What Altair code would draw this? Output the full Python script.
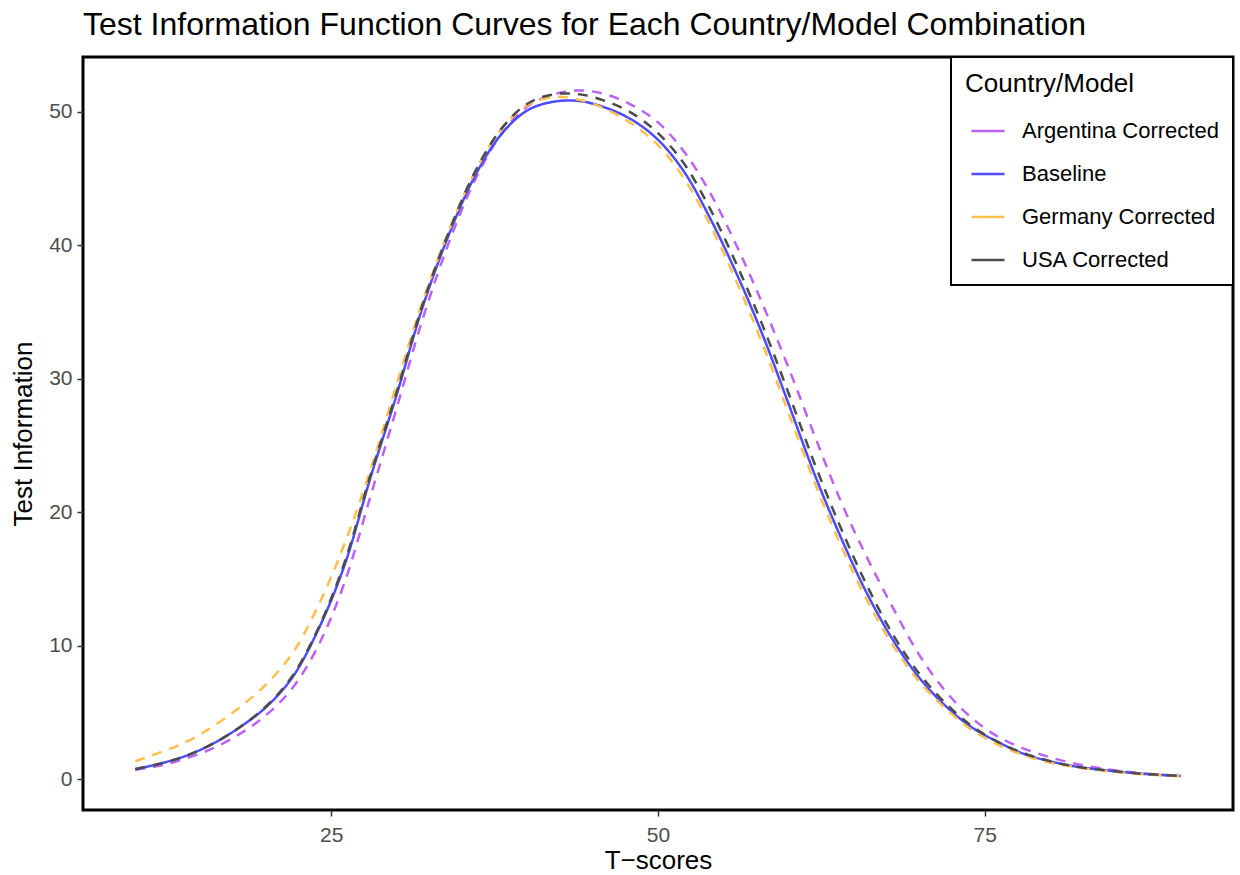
import altair as alt
import pandas as pd

t_scores = [10, 12, 14, 16, 18, 20, 22, 24, 26, 28, 30, 32, 34, 36, 38, 40, 42, 44, 46, 48, 50,
            52, 54, 56, 58, 60, 62, 64, 66, 68, 70, 72, 74, 76, 78, 80, 82, 84, 86, 88, 90]

argentina = [0.70, 1.05, 1.6, 2.35, 3.4, 4.8, 6.8, 10.0, 14.7, 21.2, 27.8, 34.5, 40.2, 44.9, 48.3,
             50.4, 51.3, 51.6, 51.3, 50.5, 49.2, 47.0, 43.9, 40.0, 35.6, 30.8, 25.7, 20.8, 16.6,
             12.8, 9.3, 6.6, 4.6, 3.2, 2.3, 1.65, 1.15, 0.8, 0.55, 0.38, 0.26]

baseline = [0.75, 1.2, 1.8, 2.7, 3.9, 5.4, 7.6, 11.2, 16.0, 22.6, 28.8, 35.4, 40.8, 45.2, 48.3,
            50.1, 50.75, 50.8, 50.3, 49.4, 47.9, 45.5, 42.0, 37.9, 33.3, 28.1, 22.8, 18.1, 13.9,
            10.4, 7.6, 5.5, 3.9, 2.8, 1.9, 1.35, 0.95, 0.7, 0.5, 0.35, 0.25]

germany = [1.35, 2.05, 2.85, 4.0, 5.4, 7.1, 9.4, 13.0, 17.6, 23.2, 29.6, 35.8, 41.1, 45.5, 48.7,
           50.5, 51.1, 50.9, 50.2, 49.1, 47.5, 45.0, 41.5, 37.3, 32.6, 27.4, 22.2, 17.5, 13.4,
           10.0, 7.3, 5.3, 3.7, 2.6, 1.8, 1.25, 0.9, 0.65, 0.45, 0.32, 0.23]

usa = [0.78, 1.2, 1.8, 2.7, 3.9, 5.45, 7.7, 11.3, 16.2, 22.8, 29.0, 35.6, 41.0, 45.5, 48.7,
       50.6, 51.3, 51.3, 50.8, 49.9, 48.4, 46.1, 42.7, 38.6, 34.0, 28.9, 23.6, 18.8, 14.5,
       10.8, 7.9, 5.7, 4.0, 2.8, 1.95, 1.35, 0.95, 0.7, 0.5, 0.35, 0.25]

series_names = ["Argentina Corrected", "Baseline", "Germany Corrected", "USA Corrected"]
series_values = [argentina, baseline, germany, usa]
colors = ["#BC62F4", "#4C4CFF", "#FFBF4C", "#4C4C4C"]

rows = []
for name, vals in zip(series_names, series_values):
    for t, v in zip(t_scores, vals):
        rows.append({"T": t, "Info": v, "Series": name})
df = pd.DataFrame(rows)

FONT = "Liberation Sans"

chart = alt.Chart(df).transform_calculate(
    LineType="datum.Series === 'Baseline' ? 'solid' : 'dashed'"
).mark_line(strokeWidth=2.5, interpolate="catmull-rom").encode(
    x=alt.X("T:Q", scale=alt.Scale(domain=[6, 94], nice=False, zero=False),
            axis=alt.Axis(values=[25, 50, 75], title="T\u2212scores", labelPadding=8, titlePadding=2)),
    y=alt.Y("Info:Q", scale=alt.Scale(domain=[-2.3, 54.1], nice=False, zero=False),
            axis=alt.Axis(values=[0, 10, 20, 30, 40, 50], title="Test Information", labelPadding=5,
                          titlePadding=12)),
    color=alt.Color("Series:N", scale=alt.Scale(domain=series_names, range=colors),
                    legend=alt.Legend(title="Country/Model", orient="top-right", offset=0,
                                      fillColor="white", strokeColor="black", padding=14,
                                      symbolType="stroke", symbolSize=1089, symbolStrokeWidth=2.5,
                                      symbolOffset=5, labelOffset=16, rowPadding=14,
                                      titlePadding=16, titleFontSize=26, titleFontWeight="normal",
                                      titleColor="black", labelFontSize=22, labelColor="black",
                                      titleFont=FONT, labelFont=FONT, labelLimit=0)),
    strokeDash=alt.StrokeDash("LineType:N",
                              scale=alt.Scale(domain=["solid", "dashed"], range=[[1, 0], [10, 8]]),
                              legend=None),
).properties(
    width=1150,
    height=753,
    padding={"left": 83, "top": 57, "right": 7, "bottom": 65},
    autosize=alt.AutoSizeParams(type="none"),
    title=alt.Title("Test Information Function Curves for Each Country/Model Combination",
                    anchor="start", frame="group", fontSize=32, fontWeight="normal",
                    color="black", font=FONT, offset=14),
).configure_view(
    stroke="black", strokeWidth=3
).configure_axis(
    grid=False, domain=False, tickColor="#333333", tickSize=6, tickWidth=1.5,
    labelFontSize=21, labelColor="#4D4D4D", labelFont=FONT,
    titleFontSize=26, titleFontWeight="normal", titleColor="black", titleFont=FONT,
).configure_legend(
    strokeWidth=2
)

chart.save("out.html", embed_options={"renderer": "svg", "actions": False})
